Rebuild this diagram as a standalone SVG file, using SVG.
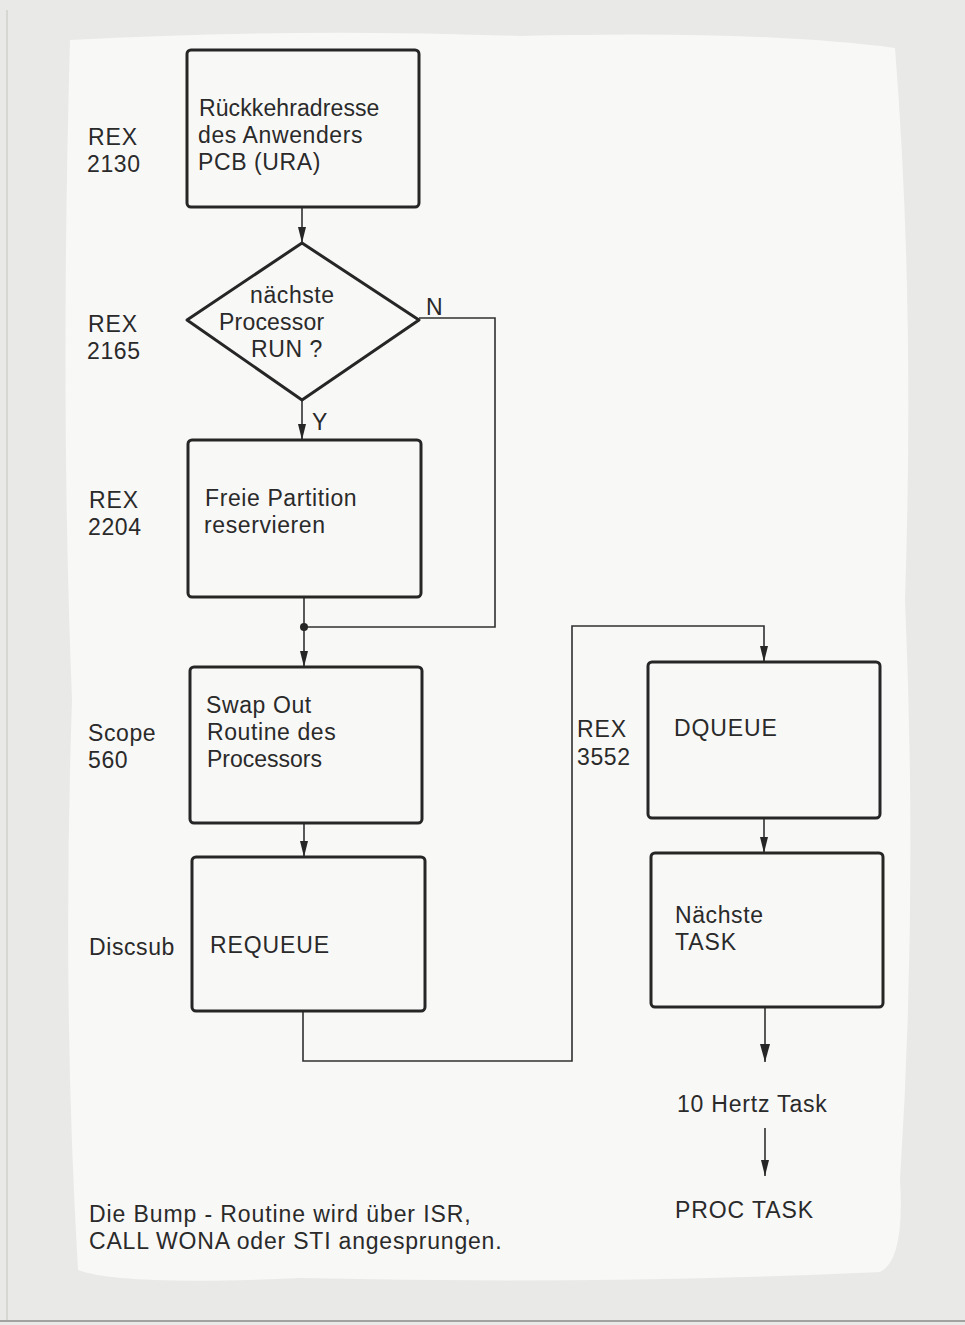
<svg xmlns="http://www.w3.org/2000/svg" width="965" height="1325" viewBox="0 0 965 1325">
<style>
text{font-family:"Liberation Sans",Arial,sans-serif;font-size:23px;fill:#2a2a2a;letter-spacing:0.6px}
.box{fill:none;stroke:#262626;stroke-width:3}
.con{fill:none;stroke:#303030;stroke-width:1.6}
.caps{letter-spacing:0.9px}
</style>
<defs>
<marker id="ah2" viewBox="0 0 16 10" refX="16" refY="5" markerWidth="16" markerHeight="10" markerUnits="userSpaceOnUse" orient="auto">
<path d="M0,1 L16,5 L0,9 Z" fill="#262626"/>
</marker>
<marker id="ah3" viewBox="0 0 18 12" refX="18" refY="6" markerWidth="18" markerHeight="12" markerUnits="userSpaceOnUse" orient="auto">
<path d="M0,1 L18,6 L0,11 Z" fill="#262626"/>
</marker>
</defs>
<rect width="965" height="1325" fill="#e9e9e7"/>
<path d="M70,40 Q300,28 520,36 Q760,30 895,48 Q915,300 905,600 Q918,900 900,1180 Q905,1260 880,1272 Q600,1285 300,1278 Q120,1286 78,1270 Q62,1000 72,700 Q60,400 70,40 Z" fill="#f8f8f7"/>
<line x1="7" y1="10" x2="7" y2="1320" stroke="#cfcfcd" stroke-width="1.5"/>
<line x1="0" y1="1321" x2="965" y2="1321" stroke="#8a8a88" stroke-width="1.5"/>

<g id="connectors">
<path class="con" d="M302,207 V243" marker-end="url(#ah2)"/>
<path class="con" d="M302,400 V440" marker-end="url(#ah2)"/>
<path class="con" d="M419,318 H495 V627 H304"/>
<path class="con" d="M304,597 V667" marker-end="url(#ah2)"/>
<circle cx="304" cy="627" r="4" fill="#262626"/>
<path class="con" d="M304,823 V857" marker-end="url(#ah2)"/>
<path class="con" d="M303,1011 V1061 H572 V626 H764 V662" marker-end="url(#ah2)"/>
<path class="con" d="M764,818 V853" marker-end="url(#ah2)"/>
<path class="con" d="M765,1007 V1062" stroke-width="2.2" marker-end="url(#ah3)"/>
<path class="con" d="M765,1128 V1176" marker-end="url(#ah2)"/>
</g>

<g id="n1">
<rect class="box" x="187" y="50" width="232" height="157" rx="4"/>
<text x="199" y="116" style="letter-spacing:0.1px">Rückkehradresse</text>
<text x="198" y="143">des Anwenders</text>
<text x="198" y="170">PCB (URA)</text>
</g>
<g id="n2">
<path class="box" d="M302,243 L419,320 L302,400 L187,320 Z" stroke-linejoin="round"/>
<text x="250" y="303">nächste</text>
<text x="219" y="330" style="letter-spacing:0.2px">Processor</text>
<text x="251" y="357">RUN ?</text>
</g>
<g id="lblN"><text x="426" y="315">N</text></g>
<g id="lblY"><text x="312" y="430">Y</text></g>
<g id="n3">
<rect class="box" x="188" y="440" width="233" height="157" rx="4"/>
<text x="205" y="506">Freie Partition</text>
<text x="204" y="533">reservieren</text>
</g>
<g id="n4">
<rect class="box" x="190" y="667" width="232" height="156" rx="4"/>
<text x="206" y="713">Swap Out</text>
<text x="207" y="740">Routine des</text>
<text x="207" y="767" style="letter-spacing:0px">Processors</text>
</g>
<g id="n5">
<rect class="box" x="192" y="857" width="233" height="154" rx="4"/>
<text x="210" y="953" class="caps">REQUEUE</text>
</g>
<g id="n6">
<rect class="box" x="648" y="662" width="232" height="156" rx="4"/>
<text x="674" y="736" class="caps">DQUEUE</text>
</g>
<g id="n7">
<rect class="box" x="651" y="853" width="232" height="154" rx="4"/>
<text x="675" y="923">Nächste</text>
<text x="675" y="950" class="caps">TASK</text>
</g>
<g id="n8"><text x="677" y="1112" style="letter-spacing:0.8px">10 Hertz Task</text></g>
<g id="n9"><text x="675" y="1218" class="caps">PROC TASK</text></g>

<g id="labels">
<text x="88" y="145" class="caps">REX</text>
<text x="87" y="172">2130</text>
<text x="88" y="332" class="caps">REX</text>
<text x="87" y="359">2165</text>
<text x="89" y="508" class="caps">REX</text>
<text x="88" y="535">2204</text>
<text x="88" y="741">Scope</text>
<text x="88" y="768">560</text>
<text x="89" y="955">Discsub</text>
<text x="577" y="737" class="caps">REX</text>
<text x="577" y="765">3552</text>
<text x="89" y="1222" style="letter-spacing:0.9px">Die Bump - Routine wird über ISR,</text>
<text x="89" y="1249" style="letter-spacing:0.8px">CALL WONA oder STI angesprungen.</text>
</g>
</svg>
